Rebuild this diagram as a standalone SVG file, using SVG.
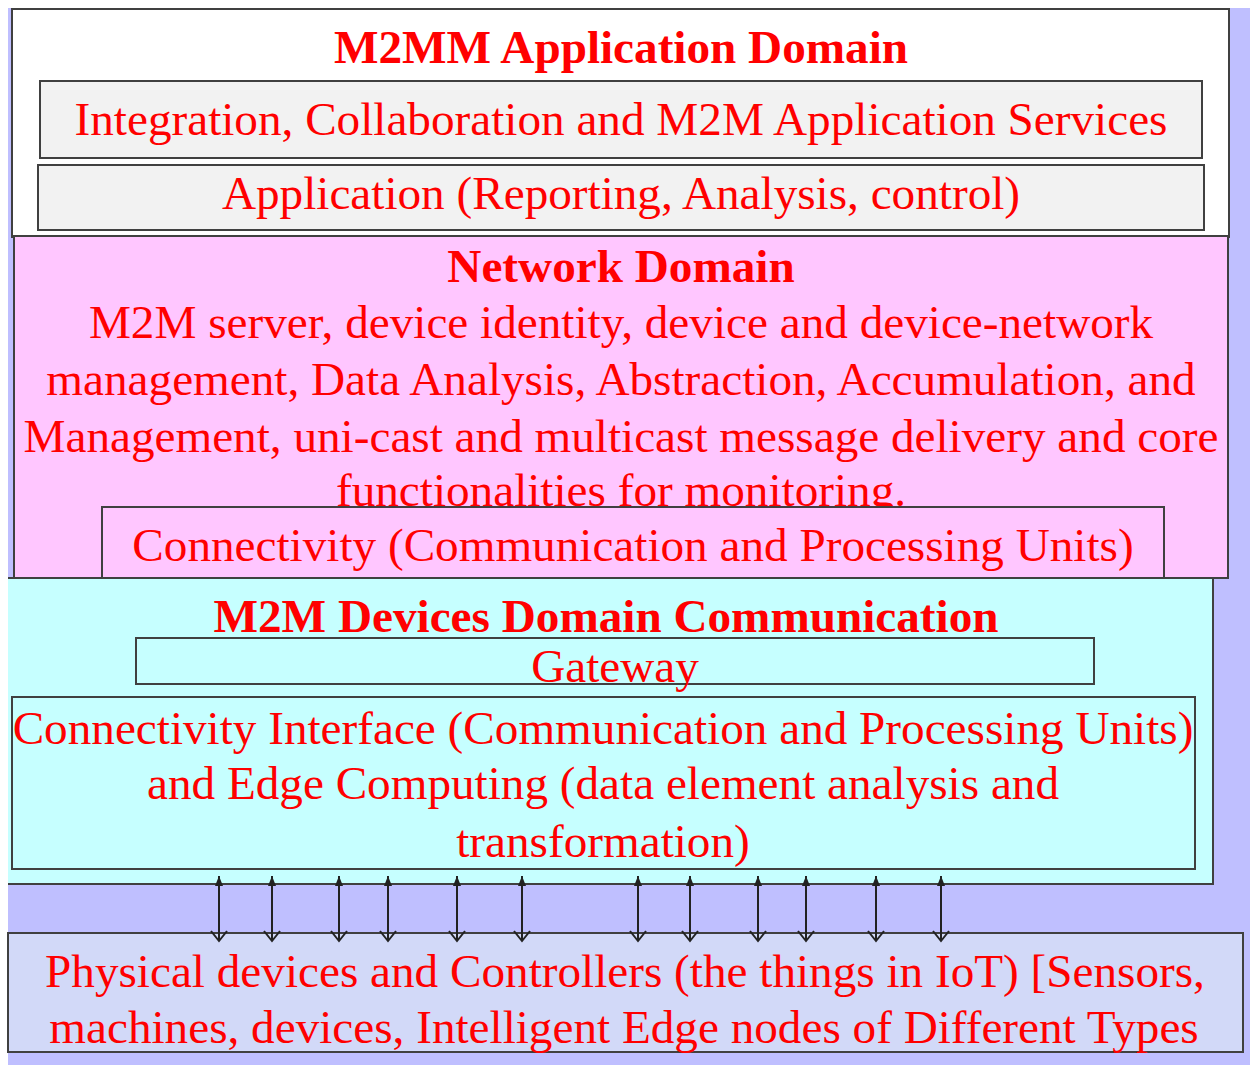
<svg xmlns="http://www.w3.org/2000/svg" width="1250" height="1065" viewBox="0 0 1250 1065">
  <defs>
    <style>
      .box { stroke: #404040; stroke-width: 2; }
      .lbl { font-family: "Liberation Serif", "Times New Roman", serif; fill: #ff0000; text-anchor: middle; font-size: 47.2px; }
      .ttl { font-family: "Liberation Serif", "Times New Roman", serif; fill: #ff0000; text-anchor: middle; font-size: 47.2px; font-weight: bold; }
      .link { stroke: #222; stroke-width: 2; fill: none; }
    </style>
    <!-- small solid head at the upper end -->
    <marker id="head-up" markerUnits="userSpaceOnUse" viewBox="0 0 9 11" refX="4.5" refY="0" markerWidth="9" markerHeight="11" orient="0">
      <path d="M4.5 0 L8.5 10 L0.5 10 Z" fill="#222"/>
    </marker>
    <!-- open chevron at the lower end -->
    <marker id="head-down" markerUnits="userSpaceOnUse" viewBox="-1 -1 18 13" refX="8" refY="10" markerWidth="18" markerHeight="13" orient="0">
      <path d="M0 0 L8 10 L16 0" fill="none" stroke="#222" stroke-width="2"/>
    </marker>
  </defs>

  <!-- page backdrop -->
  <rect x="0" y="0" width="1250" height="1065" fill="#ffffff"/>
  <rect x="8" y="8" width="1242" height="1057" fill="#bfbfff"/>

  <!-- application domain -->
  <g id="app-domain">
    <rect class="box" x="12" y="9" width="1217" height="228" fill="#ffffff"/>
    <text class="ttl" x="621" y="63">M2MM Application Domain</text>
  </g>
  <g id="app-services">
    <rect class="box" x="40" y="81" width="1162" height="77" fill="#f2f2f2"/>
    <text class="lbl" x="621" y="135">Integration, Collaboration and M2M Application Services</text>
  </g>
  <g id="app-reporting">
    <rect class="box" x="38" y="165" width="1166" height="65" fill="#f2f2f2"/>
    <text class="lbl" x="621" y="209">Application (Reporting, Analysis, control)</text>
  </g>

  <!-- network domain -->
  <g id="network-domain">
    <rect class="box" x="14" y="236" width="1214" height="342" fill="#ffc6ff"/>
    <text class="ttl" x="621" y="282">Network Domain</text>
    <text class="lbl" x="621" y="338">M2M server, device identity, device and device-network</text>
    <text class="lbl" x="621" y="395">management, Data Analysis, Abstraction, Accumulation, and</text>
    <text class="lbl" x="621" y="452">Management, uni-cast and multicast message delivery and core</text>
    <text class="lbl" x="621" y="506">functionalities for monitoring.</text>
  </g>
  <g id="network-connectivity">
    <rect class="box" x="102" y="507" width="1062" height="71" fill="#ffc6ff"/>
    <text class="lbl" x="633" y="561">Connectivity (Communication and Processing Units)</text>
  </g>

  <!-- devices domain -->
  <g id="devices-domain">
    <rect x="8" y="578" width="1205" height="306" fill="#c6ffff"/>
    <path class="box" d="M8 578 H1213 V884 H8" fill="none"/>
    <text class="ttl" x="606" y="632">M2M Devices Domain Communication</text>
  </g>
  <g id="gateway">
    <rect class="box" x="136" y="638" width="958" height="46" fill="#c6ffff"/>
    <text class="lbl" x="615" y="682">Gateway</text>
  </g>
  <g id="connectivity-interface">
    <rect class="box" x="12" y="697" width="1183" height="172" fill="#c6ffff"/>
    <text class="lbl" x="603" y="744">Connectivity Interface (Communication and Processing Units)</text>
    <text class="lbl" x="603" y="799">and Edge Computing (data element analysis and</text>
    <text class="lbl" x="603" y="857">transformation)</text>
  </g>

  <!-- physical things -->
  <g id="physical-devices">
    <rect class="box" x="8" y="933" width="1235" height="119" fill="#d2d9f8"/>
    <text class="lbl" x="625" y="987">Physical devices and Controllers (the things in IoT) [Sensors,</text>
    <text class="lbl" x="624" y="1043">machines, devices, Intelligent Edge nodes of Different Types</text>
  </g>

  <!-- two-way links between the interface and the things -->
  <g id="connectors">
    <line class="link" x1="219" y1="876" x2="219" y2="941" marker-start="url(#head-up)" marker-end="url(#head-down)"/>
    <line class="link" x1="272" y1="876" x2="272" y2="941" marker-start="url(#head-up)" marker-end="url(#head-down)"/>
    <line class="link" x1="339" y1="876" x2="339" y2="941" marker-start="url(#head-up)" marker-end="url(#head-down)"/>
    <line class="link" x1="388" y1="876" x2="388" y2="941" marker-start="url(#head-up)" marker-end="url(#head-down)"/>
    <line class="link" x1="457" y1="876" x2="457" y2="941" marker-start="url(#head-up)" marker-end="url(#head-down)"/>
    <line class="link" x1="522" y1="876" x2="522" y2="941" marker-start="url(#head-up)" marker-end="url(#head-down)"/>
    <line class="link" x1="638" y1="876" x2="638" y2="941" marker-start="url(#head-up)" marker-end="url(#head-down)"/>
    <line class="link" x1="690" y1="876" x2="690" y2="941" marker-start="url(#head-up)" marker-end="url(#head-down)"/>
    <line class="link" x1="758" y1="876" x2="758" y2="941" marker-start="url(#head-up)" marker-end="url(#head-down)"/>
    <line class="link" x1="806" y1="876" x2="806" y2="941" marker-start="url(#head-up)" marker-end="url(#head-down)"/>
    <line class="link" x1="876" y1="876" x2="876" y2="941" marker-start="url(#head-up)" marker-end="url(#head-down)"/>
    <line class="link" x1="941" y1="876" x2="941" y2="941" marker-start="url(#head-up)" marker-end="url(#head-down)"/>
  </g>
</svg>
